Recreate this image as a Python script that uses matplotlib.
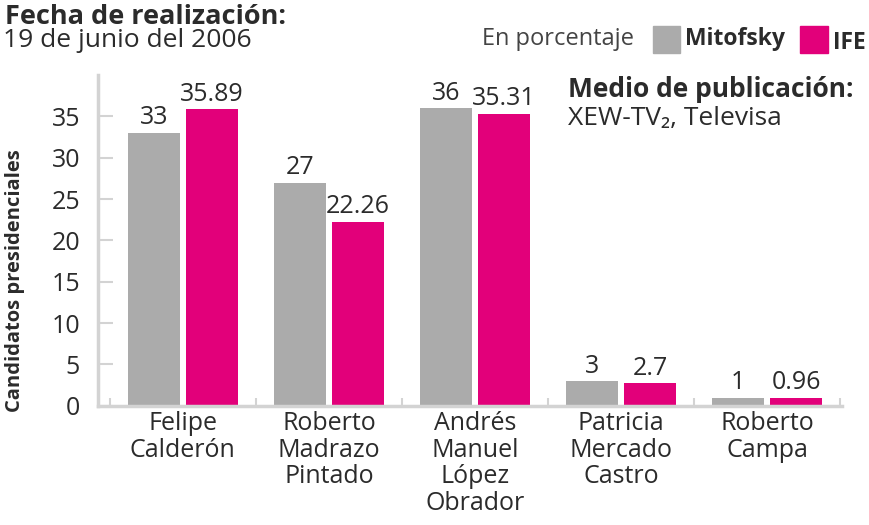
import matplotlib
matplotlib.use("Agg")
import matplotlib.pyplot as plt
import numpy as np
from matplotlib.patches import Rectangle

# data
candidatos = ["Felipe\nCalderón", "Roberto\nMadrazo\nPintado", "Andrés\nManuel\nLópez\nObrador",
              "Patricia\nMercado\nCastro", "Roberto\nCampa"]
mitofsky = [33, 27, 36, 3, 1]
ife = [35.89, 22.26, 35.31, 2.7, 0.96]
mitofsky_lbl = ["33", "27", "36", "3", "1"]
ife_lbl = ["35.89", "22.26", "35.31", "2.7", "0.96"]
yticks = [0, 5, 10, 15, 20, 25, 30, 35]

GRAY = "#ababab"
PINK = "#e2007a"
AXIS = "#d3d3d3"
TEXT = "#2b2b2b"

plt.rcParams["font.family"] = ["Open Sans", "DejaVu Sans"]

fig = plt.figure(figsize=(8.69, 5.25), dpi=100)
ax = fig.add_axes([0.1128, 0.227, 0.856, 0.63])

x = np.arange(len(candidatos))
w = 0.356
off = 0.199
ax.bar(x - off, mitofsky, w, color=GRAY)
ax.bar(x + off, ife, w, color=PINK)

# value labels above bars
for xi, v, s in zip(x, mitofsky, mitofsky_lbl):
    ax.text(xi - off, v + 0.3, s, ha="center", va="bottom", fontsize=18, color=TEXT)
for xi, v, s in zip(x, ife, ife_lbl):
    ax.text(xi + off, v + 0.3, s, ha="center", va="bottom", fontsize=18, color=TEXT)

ax.set_xlim(-0.58, 4.51)
ax.set_ylim(0, 40)
ax.set_yticks(yticks)
ax.set_yticklabels([str(t) for t in yticks], fontsize=18, color=TEXT)
ax.tick_params(axis="y", direction="in", length=11, width=1.5, color=AXIS, pad=13)
ax.set_xticks(x)
ax.set_xticklabels(candidatos, fontsize=18, color=TEXT, linespacing=1.08, va="top")
ax.tick_params(axis="x", length=0, pad=4)
ax.set_xticks(np.append(x + 0.5, -0.5), minor=True)
ax.tick_params(axis="x", which="minor", direction="in", length=6, width=1.5, color=AXIS)

for side in ["top", "right"]:
    ax.spines[side].set_visible(False)
for side in ["left", "bottom"]:
    ax.spines[side].set_color(AXIS)
    ax.spines[side].set_linewidth(2.5)

ax.set_ylabel("Candidatos presidenciales", fontsize=14.5, fontweight="bold", color=TEXT)
ax.yaxis.set_label_coords(-0.098, 0.38)

# header
fig.text(0.006, 0.992, "Fecha de realización:", fontsize=19.5, fontweight="bold", color=TEXT, va="top")
fig.text(0.004, 0.946, "19 de junio del 2006", fontsize=19, color=TEXT, va="top")
fig.text(0.555, 0.925, "En porcentaje", fontsize=17, color="#444444", va="center")
fig.patches.append(Rectangle((0.751, 0.900), 0.032, 0.050, transform=fig.transFigure, color=GRAY))
fig.text(0.788, 0.925, "Mitofsky", fontsize=16.5, fontweight="bold", color=TEXT, va="center")
fig.patches.append(Rectangle((0.921, 0.900), 0.032, 0.050, transform=fig.transFigure, color=PINK))
fig.text(0.958, 0.918, "IFE", fontsize=16.5, fontweight="bold", color=TEXT, va="center")
fig.text(0.654, 0.83, "Medio de publicación:", fontsize=19, fontweight="bold", color=TEXT, va="center")
fig.text(0.654, 0.775, "XEW-TV₂, Televisa", fontsize=19, color=TEXT, va="center")

fig.savefig("out.png", dpi=100, facecolor="white")
